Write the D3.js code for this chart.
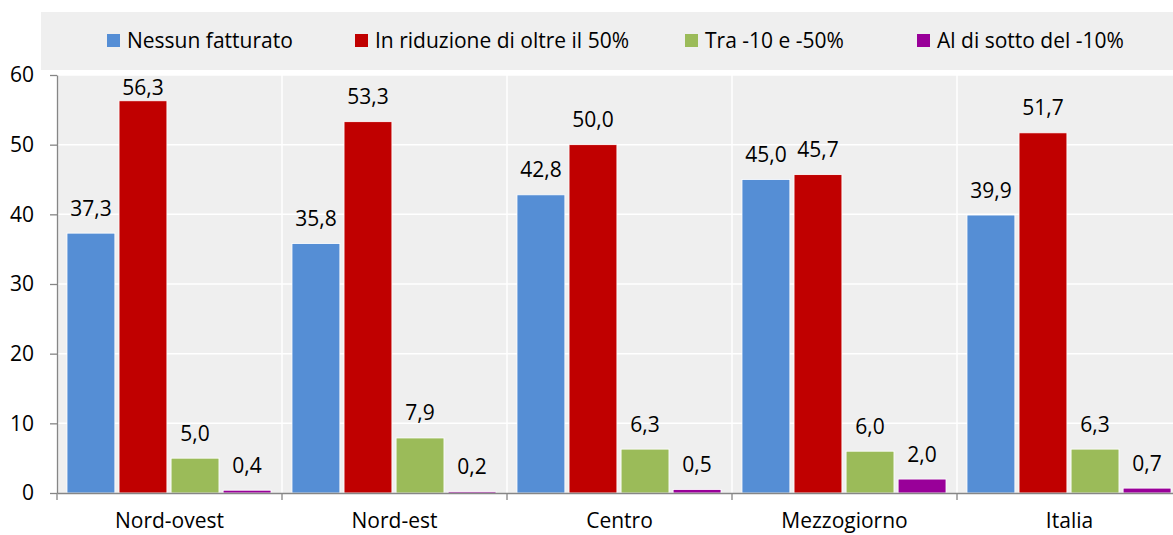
<!DOCTYPE html>
<html>
<head>
<meta charset="utf-8">
<script src="https://cdn.jsdelivr.net/npm/d3@7"></script>
<style>
  body { margin: 0; background: #fff; }
  svg { display: block; font-family: "Open Sans", sans-serif; }
</style>
</head>
<body>
<div id="chart"></div>
<script>
const categories = ['Nord-ovest', 'Nord-est', 'Centro', 'Mezzogiorno', 'Italia'];
const seriesNames = ['Nessun fatturato', 'In riduzione di oltre il 50%', 'Tra -10 e -50%', 'Al di sotto del -10%'];
const nessun = [37.3, 35.8, 42.8, 45.0, 39.9];
const riduzione = [56.3, 53.3, 50.0, 45.7, 51.7];
const tra = [5.0, 7.9, 6.3, 6.0, 6.3];
const sotto = [0.4, 0.2, 0.5, 2.0, 0.7];
const yTicks = [0, 10, 20, 30, 40, 50, 60];
const colors = ['#558ed5', '#c00000', '#9bbb59', '#990099'];

const width = 1173, height = 535;
const margin = { left: 57, top: 75, bottom: 42 };
const catWidth = 225;
const fontSize = 21;

const svg = d3.select('#chart').append('svg')
    .attr('width', width)
    .attr('height', height);

// legend band
svg.append('rect')
    .attr('x', 41).attr('y', 12)
    .attr('width', width - 41).attr('height', 58)
    .attr('fill', '#efefef');

const legendX = [107, 355, 685, 917];
seriesNames.forEach((name, i) => {
    svg.append('rect')
        .attr('x', legendX[i]).attr('y', 34)
        .attr('width', 13).attr('height', 13)
        .attr('fill', colors[i]);
    svg.append('text')
        .attr('x', legendX[i] + 20).attr('y', 48)
        .attr('font-size', fontSize)
        .attr('fill', '#000')
        .text(name);
});

const x = d3.scaleBand()
    .domain(categories)
    .range([margin.left, margin.left + catWidth * categories.length])
    .paddingInner(0).paddingOuter(0);

const xs = d3.scaleBand()
    .domain(d3.range(4))
    .range([10, catWidth - 11])
    .paddingInner(0.08);

const y = d3.scaleLinear()
    .domain([0, 60])
    .range([height - margin.bottom, margin.top]);

// plot background
svg.append('rect')
    .attr('x', margin.left).attr('y', margin.top)
    .attr('width', width - margin.left).attr('height', y(0) - margin.top)
    .attr('fill', '#efefef');

// gridlines
svg.append('g')
    .selectAll('line')
    .data(yTicks.slice(1))
    .join('line')
    .attr('x1', margin.left).attr('x2', width)
    .attr('y1', d => y(d)).attr('y2', d => y(d))
    .attr('stroke', '#fff').attr('stroke-width', 1.5);

svg.append('g')
    .selectAll('line')
    .data(categories.slice(1))
    .join('line')
    .attr('x1', d => x(d)).attr('x2', d => x(d))
    .attr('y1', margin.top).attr('y2', y(0))
    .attr('stroke', '#fff').attr('stroke-width', 1.5);

// bars
const series = [nessun, riduzione, tra, sotto];
const rows = [];
series.forEach((vals, s) => {
    vals.forEach((v, c) => rows.push({ cat: categories[c], s, v }));
});

svg.append('g')
    .selectAll('rect')
    .data(rows)
    .join('rect')
    .attr('x', d => x(d.cat) + xs(d.s))
    .attr('y', d => y(d.v))
    .attr('width', xs.bandwidth())
    .attr('height', d => y(0) - y(d.v))
    .attr('fill', d => colors[d.s])
    .attr('stroke', '#fff')
    .attr('stroke-width', 0.8);

// value labels
svg.append('g')
    .selectAll('text')
    .data(rows)
    .join('text')
    .attr('x', d => x(d.cat) + xs(d.s) + xs.bandwidth() / 2)
    .attr('y', d => Math.max(y(d.v) - 25, 87) + 7.5)
    .attr('text-anchor', 'middle')
    .attr('font-size', fontSize)
    .attr('fill', '#000')
    .text(d => d.v.toFixed(1).replace('.', ','));

// y axis
const yAxis = svg.append('g')
    .attr('transform', `translate(${margin.left},0)`)
    .call(d3.axisLeft(y).tickValues(yTicks).tickSize(7).tickPadding(16).tickSizeOuter(0));
yAxis.select('.domain').attr('stroke', '#868686').attr('stroke-width', 1.3);
yAxis.selectAll('.tick line').attr('stroke', '#868686').attr('stroke-width', 1.3);
yAxis.selectAll('.tick text')
    .attr('font-size', fontSize)
    .attr('font-family', '"Open Sans", sans-serif')
    .attr('fill', '#000');

// x axis
const xAxis = svg.append('g')
    .attr('transform', `translate(0,${y(0)})`)
    .call(d3.axisBottom(x).tickSize(0).tickPadding(20));
xAxis.select('.domain').attr('stroke', '#868686').attr('stroke-width', 1.3);
xAxis.selectAll('.tick text')
    .attr('font-size', fontSize)
    .attr('font-family', '"Open Sans", sans-serif')
    .attr('fill', '#000');

// category boundary ticks
svg.append('g')
    .selectAll('line')
    .data(categories)
    .join('line')
    .attr('x1', d => x(d)).attr('x2', d => x(d))
    .attr('y1', y(0)).attr('y2', y(0) + 7)
    .attr('stroke', '#868686').attr('stroke-width', 1.3);
</script>
</body>
</html>
